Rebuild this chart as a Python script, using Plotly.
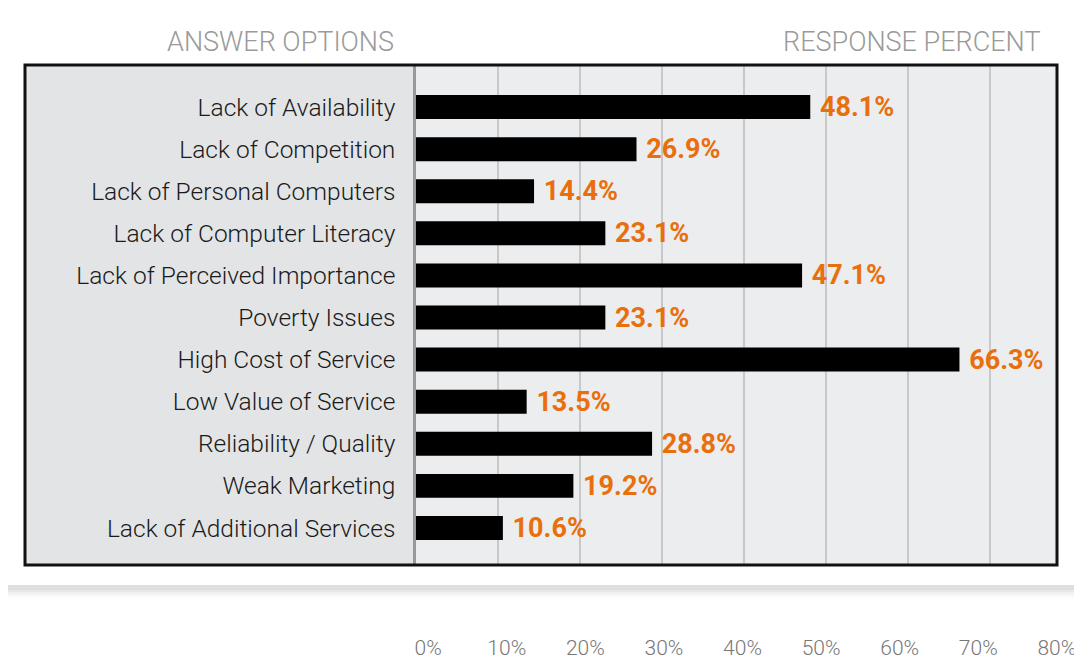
import plotly.graph_objects as go

# survey data, top to bottom as shown
options = [
    "Lack of Availability",
    "Lack of Competition",
    "Lack of Personal Computers",
    "Lack of Computer Literacy",
    "Lack of Perceived Importance",
    "Poverty Issues",
    "High Cost of Service",
    "Low Value of Service",
    "Reliability / Quality",
    "Weak Marketing",
    "Lack of Additional Services",
]
response_pct = [48.1, 26.9, 14.4, 23.1, 47.1, 23.1, 66.3, 13.5, 28.8, 19.2, 10.6]
tick_vals = [0, 10, 20, 30, 40, 50, 60, 70, 80]
tick_text = ["0%", "10%", "20%", "30%", "40%", "50%", "60%", "70%", "80%"]

# page has an 8px body margin, so the figure is a bit smaller than the window
OFF = 8
W, H = 1082 - OFF, 661 - OFF
# plot area in window pixels
PL, PR, PT, PB = 416, 1057, 65, 565


def px(x):
    return (x - PL) / (PR - PL)


def py(y):
    return (PB - y) / (PB - PT)


def rect(x0, y0, x1, y1, **kw):
    return dict(type="rect", xref="paper", yref="paper",
                x0=px(x0), x1=px(x1), y0=py(y1), y1=py(y0), **kw)


ORANGE = "#E96F0D"

fig = go.Figure()

fig.add_trace(go.Bar(
    y=options,
    x=response_pct,
    orientation="h",
    width=0.57,
    marker=dict(color="black", line=dict(width=0)),
    texttemplate="\u00a0%{x:.1f}%",
    textposition="outside",
    constraintext="none",
    cliponaxis=False,
    textfont=dict(family="Roboto", size=27, color=ORANGE, weight=700),
    hoverinfo="skip",
))

# invisible trace so the bottom tick axis gets drawn
fig.add_trace(go.Scatter(
    x=tick_vals, y=[options[0]] * len(tick_vals), xaxis="x2",
    mode="markers", marker=dict(opacity=0), hoverinfo="skip", showlegend=False,
))

shapes = []
# soft card shadow
for i, a in enumerate([0.035, 0.03, 0.025, 0.02, 0.015]):
    d = 2 * (i + 1)
    shapes.append(rect(8 - d, 8 - d + 3, 1075 + d, 585 + d + 3,
                       fillcolor=f"rgba(0,0,0,{a})", line=dict(width=0), layer="below"))
# white card
shapes.append(rect(8, 8, 1075, 585, fillcolor="white", line=dict(width=0), layer="below"))
# left label panel and chart panel
shapes.append(rect(25, 65, PL, 565, fillcolor="#e3e4e6", line=dict(width=0), layer="below"))
shapes.append(rect(PL, 65, 1057, 565, fillcolor="#ecedee", line=dict(width=0), layer="below"))
# black frame
shapes.append(rect(25, 65, 1057, 565, fillcolor="rgba(0,0,0,0)",
                   line=dict(color="#111", width=3), layer="above"))

hdr_font = dict(family="Roboto", size=27, color="#9a9a9a", weight=300)
annotations = [
    dict(text="ANSWER OPTIONS", x=px(396), y=py(42), xref="paper", yref="paper",
         xanchor="right", yanchor="middle", showarrow=False, font=hdr_font),
    dict(text="RESPONSE PERCENT", x=px(1043), y=py(42), xref="paper", yref="paper",
         xanchor="right", yanchor="middle", showarrow=False, font=hdr_font),
]

fig.update_layout(
    width=W, height=H,
    margin=dict(l=PL - OFF, r=1082 - PR, t=PT - OFF, b=661 - PB),
    paper_bgcolor="white",
    plot_bgcolor="#ecedee",
    showlegend=False,
    bargap=0.43,
    shapes=shapes,
    annotations=annotations,
    xaxis=dict(
        range=[0, 78.2], dtick=10, tick0=0,
        showgrid=True, gridcolor="#c8c8c8", gridwidth=1.5,
        showticklabels=False, zeroline=False, showline=False,
        fixedrange=True, automargin=False,
    ),
    xaxis2=dict(
        overlaying="x", anchor="y", side="bottom",
        range=[-1.55, 80.02],
        tickmode="array", tickvals=tick_vals, ticktext=tick_text,
        showgrid=False, zeroline=False, showline=False, ticks="",
        ticklabelstandoff=68,
        tickfont=dict(family="Roboto", size=21, color="#777", weight=300),
        fixedrange=True, automargin=False,
    ),
    yaxis=dict(
        categoryorder="array", categoryarray=options,
        range=[10.88, -1.0],
        showline=True, linecolor="#999", linewidth=2.5,
        ticks="", ticklabelstandoff=13,
        tickfont=dict(family="Roboto", size=24.5, color="#1a1a1a", weight=300),
        showgrid=False, zeroline=False, fixedrange=True, automargin=False,
    ),
)

fig.write_html("out.html")
